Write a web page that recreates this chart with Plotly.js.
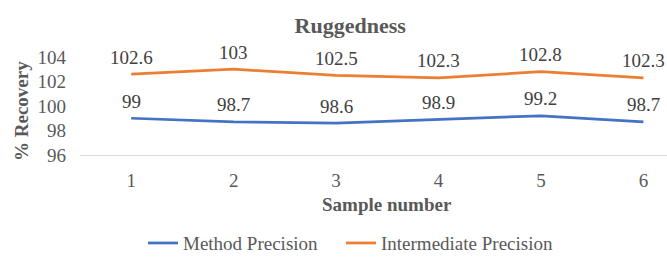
<!DOCTYPE html>
<html><head><meta charset="utf-8">
<script src="https://cdn.plot.ly/plotly-3.0.1.min.js"></script>
<style>body{margin:0;background:#fff}#c{width:667px;height:257px}</style>
</head><body><div id="c"></div>
<script>
const samples = [1, 2, 3, 4, 5, 6];
const methodPrecision = [99, 98.7, 98.6, 98.9, 99.2, 98.7];
const intermediatePrecision = [102.6, 103, 102.5, 102.3, 102.8, 102.3];
const yTicks = [96, 98, 100, 102, 104];

const FONT = 'Liberation Serif';
const GREY = '#595959';

const traces = [
  {x: samples, y: methodPrecision, name: 'Method Precision', mode: 'lines',
   line: {color: '#4472C4', width: 2.75}, legend: 'legend'},
  {x: samples, y: intermediatePrecision, name: 'Intermediate Precision', mode: 'lines',
   line: {color: '#ED7D31', width: 2.75}, legend: 'legend2'}
];

const labelAnn = (xs, ys) => xs.map((x, i) => ({
  text: String(ys[i]), xref: 'x', yref: 'y', x: x, y: ys[i], yshift: 17,
  xanchor: 'center', yanchor: 'middle', showarrow: false,
  font: {family: FONT, size: 19, color: '#404040'}
}));

const legendBase = {
  orientation: 'h', xref: 'container', xanchor: 'left',
  yref: 'container', y: 0.054, yanchor: 'middle',
  font: {family: FONT, size: 19, color: GREY}, itemwidth: 30,
  bgcolor: 'rgba(0,0,0,0)'
};

const layout = {
  width: 667, height: 257,
  margin: {l: 80, r: 0, t: 57, b: 102},
  paper_bgcolor: '#fff', plot_bgcolor: '#fff',
  font: {family: FONT, color: GREY, size: 19},
  title: {text: '<b>Ruggedness</b>', font: {family: FONT, size: 22, color: GREY},
          xref: 'container', x: 0.525, xanchor: 'center', yref: 'container', y: 0.9, yanchor: 'middle'},
  xaxis: {range: [0.5, 6.23], tickvals: samples, ticktext: samples.map(String),
          showgrid: false, zeroline: false, showline: true, linecolor: '#d9d9d9', linewidth: 1,
          ticks: '', ticklabelstandoff: 8, tickfont: {family: FONT, size: 19, color: GREY}},
  yaxis: {range: [96, 104], tickvals: yTicks, showgrid: false, zeroline: false, showline: false,
          ticks: '', ticklabelstandoff: 13, tickfont: {family: FONT, size: 19, color: GREY}},
  annotations: [
    {text: '<b>Sample number</b>', xref: 'x', x: 3.5, yref: 'paper', y: -0.5,
     xanchor: 'center', yanchor: 'middle', showarrow: false,
     font: {family: FONT, size: 19, color: GREY}},
    {text: '<b>% Recovery</b>', xref: 'paper', x: -0.0988, yref: 'paper', y: 0.449,
     xanchor: 'center', yanchor: 'middle', showarrow: false, textangle: -90,
     font: {family: FONT, size: 19, color: GREY}}
  ].concat(labelAnn(samples, methodPrecision), labelAnn(samples, intermediatePrecision)),
  showlegend: true,
  legend: Object.assign({}, legendBase, {x: 143 / 667}),
  legend2: Object.assign({}, legendBase, {x: 341 / 667})
};

Plotly.newPlot('c', traces, layout, {displayModeBar: false, staticPlot: true});
</script></body></html>
